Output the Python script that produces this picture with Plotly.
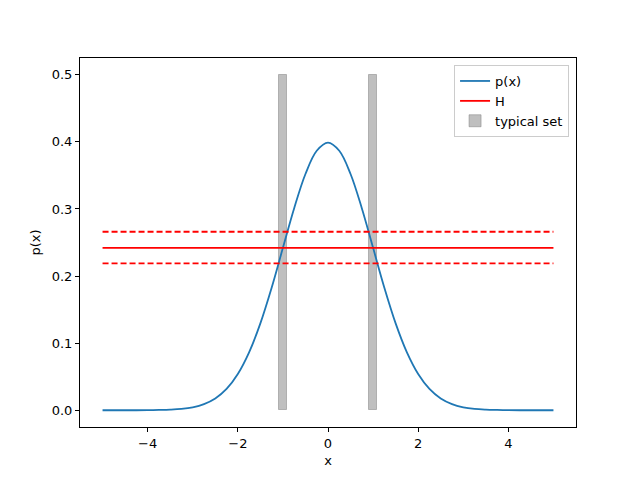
import plotly.graph_objects as go

# p(x), every 0.25 from -5 to 5
x_vals = [-5.0, -4.75, -4.5, -4.25, -4.0, -3.75, -3.5, -3.25, -3.0, -2.75,
          -2.5, -2.25, -2.0, -1.75, -1.5, -1.25, -1.0, -0.75, -0.5, -0.25,
          0.0, 0.25, 0.5, 0.75, 1.0, 1.25, 1.5, 1.75, 2.0, 2.25,
          2.5, 2.75, 3.0, 3.25, 3.5, 3.75, 4.0, 4.25, 4.5, 4.75, 5.0]
p_vals = [0.0, 0.0, 0.0, 0.0, 0.0001, 0.0004, 0.0009, 0.0020, 0.0044, 0.0091,
          0.0175, 0.0317, 0.0540, 0.0863, 0.1295, 0.1826, 0.2420, 0.3011, 0.3521, 0.3867,
          0.3989, 0.3867, 0.3521, 0.3011, 0.2420, 0.1826, 0.1295, 0.0863, 0.0540, 0.0317,
          0.0175, 0.0091, 0.0044, 0.0020, 0.0009, 0.0004, 0.0001, 0.0, 0.0, 0.0, 0.0]

H = 0.242
H_lo = 0.219
H_hi = 0.266
line_x = [-5.0, 5.0]

# typical set intervals
set_lo = [-1.09, 0.90]
set_hi = [-0.90, 1.09]
set_height = 0.5

fig = go.Figure()

fig.add_trace(go.Bar(
    x=[(a + b) / 2 for a, b in zip(set_lo, set_hi)],
    y=[set_height] * len(set_lo),
    width=[b - a for a, b in zip(set_lo, set_hi)],
    marker=dict(color="rgba(128,128,128,0.5)", line=dict(color="rgba(128,128,128,0.5)", width=1)),
    name="typical set", legendrank=3,
))
fig.add_trace(go.Scatter(x=x_vals, y=p_vals, mode="lines", line=dict(color="#1f77b4", width=1.8, shape="spline"),
                         name="p(x)", legendrank=1))
fig.add_trace(go.Scatter(x=line_x, y=[H, H], mode="lines", line=dict(color="red", width=1.8),
                         name="H", legendrank=2))
for v in (H_lo, H_hi):
    fig.add_trace(go.Scatter(x=line_x, y=[v, v], mode="lines",
                             line=dict(color="red", width=1.8, dash="6px,3px"), showlegend=False))

axis = dict(showgrid=False, zeroline=False, showline=True, linecolor="black", linewidth=1, mirror=True,
            ticks="outside", ticklen=4, tickcolor="black", tickfont=dict(size=13, color="black"))
fig.update_xaxes(range=[-5.5, 5.5], tickvals=[-4, -2, 0, 2, 4], ticktext=["\u22124", "\u22122", "0", "2", "4"],
                 title=dict(text="x", font=dict(size=13, color="black"), standoff=6), **axis)
fig.update_yaxes(range=[-0.025, 0.525], tickvals=[0, 0.1, 0.2, 0.3, 0.4, 0.5], tickformat=".1f",
                 title=dict(text="p(x)", font=dict(size=13, color="black"), standoff=8), **axis)

fig.update_layout(
    width=640, height=480, margin=dict(l=72, r=72, t=50, b=61),
    plot_bgcolor="white", paper_bgcolor="white",
    font=dict(family="DejaVu Sans", size=13, color="black"),
    barmode="overlay", bargap=0,
    legend=dict(x=0.986, y=0.981, xanchor="right", yanchor="top", bgcolor="rgba(255,255,255,0.8)",
                bordercolor="#cccccc", borderwidth=1, font=dict(size=13), traceorder="normal",
                tracegroupgap=0),
)

fig.write_html("out.html")
